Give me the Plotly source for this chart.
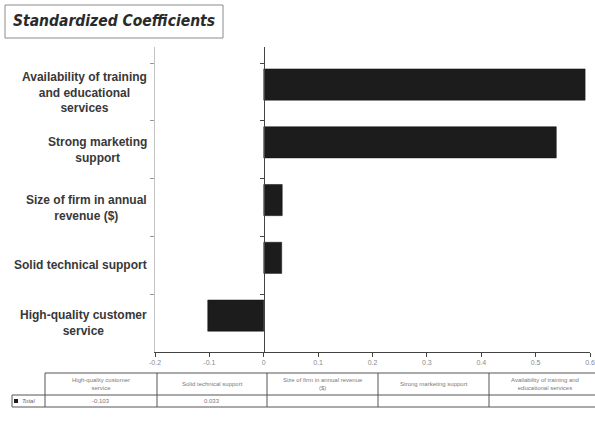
import plotly.graph_objects as go

# Predictors, listed bottom-to-top as drawn on the chart
categories = [
    "High-quality customer<br>service",
    "Solid technical support",
    "Size of firm in annual<br>revenue ($)",
    "Strong marketing<br>support",
    "Availability of training<br>and educational<br>services",
]
table_headers = [
    "High-quality customer<br>service",
    "Solid technical support",
    "Size of firm in annual revenue<br>($)",
    "Strong marketing support",
    "Availability of training and<br>educational services",
]
coefficients = [-0.103, 0.033, 0.034, 0.538, 0.591]
# which values are printed in the data table row
table_shows_value = [True, True, False, False, False]
series_name = "Total"
x_ticks = [-0.2, -0.1, 0, 0.1, 0.2, 0.3, 0.4, 0.5, 0.6]

W, H = 595, 448
L, R, T, B = 155, 5, 47, 96
plot_w = W - L - R
plot_h = H - T - B


def px(p):
    """pixel x -> paper x"""
    return (p - L) / plot_w


def py(p):
    """pixel y -> paper y"""
    return (H - B - p) / plot_h


positions = list(range(len(categories)))
y_range = [-0.5, 4.78]
band_edges = [i + 0.5 for i in positions]

fig = go.Figure()
fig.add_trace(go.Bar(
    x=coefficients,
    y=positions,
    orientation="h",
    width=0.54,
    offset=-0.14,
    marker=dict(color="#1c1c1c", line=dict(color="#111111", width=0.5)),
    name=series_name,
    showlegend=False,
    hoverinfo="x",
))

fig.update_layout(
    width=W, height=H,
    margin=dict(l=L, r=R, t=T, b=B, autoexpand=False),
    paper_bgcolor="white",
    plot_bgcolor="white",
    font=dict(family="Liberation Sans, Arial, sans-serif", color="#333333"),
    xaxis=dict(
        range=[-0.2, 0.6],
        tickvals=x_ticks,
        ticktext=[("%g" % v) for v in x_ticks],
        showgrid=False,
        zeroline=False,
        showline=True,
        linecolor="#444444",
        linewidth=1,
        ticks="outside",
        ticklen=4,
        tickcolor="#444444",
        tickfont=dict(size=7, color="#8a8a8a"),
        automargin=False,
        fixedrange=True,
    ),
    yaxis=dict(
        range=y_range,
        showgrid=False,
        zeroline=False,
        showline=True,
        linecolor="#c4c4c4",
        linewidth=1,
        showticklabels=False,
        ticks="",
        tickvals=positions,
        minor=dict(tickmode="array", tickvals=band_edges, ticks="outside",
                   ticklen=4, tickcolor="#999999"),
        automargin=False,
        fixedrange=True,
    ),
    yaxis2=dict(
        range=y_range,
        overlaying="y",
        anchor="free",
        position=px(264),
        side="left",
        showgrid=False,
        zeroline=False,
        showline=True,
        linecolor="#444444",
        linewidth=1,
        showticklabels=False,
        tickmode="array",
        tickvals=band_edges,
        ticks="outside",
        ticklen=4,
        tickcolor="#444444",
        automargin=False,
        fixedrange=True,
    ),
)

# invisible helper so the zero-line axis is rendered
fig.add_trace(go.Scatter(x=[None], y=[None], yaxis="y2", showlegend=False,
                         hoverinfo="skip"))

shapes = []
annotations = []

# category labels: bold, centred lines, right-aligned block
for pos, label in zip(positions, categories):
    annotations.append(dict(
        x=px(149), xref="paper", y=pos, yref="y",
        text="<b>" + label.replace("<br>", "</b><br><b>") + "</b>",
        showarrow=False, xanchor="right", yanchor="middle",
        align="center",
        font=dict(size=12, color="#383838",
                  family="Liberation Sans, Arial, sans-serif"),
    ))

# title box
shapes.append(dict(type="rect", xref="paper", yref="paper",
                   x0=px(5), x1=px(223), y0=py(5), y1=py(38),
                   line=dict(color="#8c8c8c", width=1), fillcolor="white"))
annotations.append(dict(
    x=px(114), y=py(21.5), xref="paper", yref="paper",
    text="<b><i>Standardized Coefficients</i></b>", showarrow=False,
    xanchor="center", yanchor="middle",
    font=dict(size=15.5, color="#2a2a2a",
              family="Liberation Sans Narrow, Arial Narrow, DejaVu Sans Condensed, sans-serif"),
))

# data table under the axis
col_edges = [45, 157, 267, 378, 489, 600]
row_top, row_mid, row_bot = 373, 395, 407
line_style = dict(color="#555555", width=1)
for yy in (row_top, row_mid, row_bot):
    shapes.append(dict(type="line", xref="paper", yref="paper",
                       x0=px(col_edges[0]), x1=px(col_edges[-1]),
                       y0=py(yy), y1=py(yy), line=line_style))
for xx in col_edges:
    shapes.append(dict(type="line", xref="paper", yref="paper",
                       x0=px(xx), x1=px(xx), y0=py(row_top), y1=py(row_bot),
                       line=line_style))
# legend cell on the data row
legend_left = 12
for yy in (row_mid, row_bot):
    shapes.append(dict(type="line", xref="paper", yref="paper",
                       x0=px(legend_left), x1=px(col_edges[0]),
                       y0=py(yy), y1=py(yy), line=line_style))
shapes.append(dict(type="line", xref="paper", yref="paper",
                   x0=px(legend_left), x1=px(legend_left),
                   y0=py(row_mid), y1=py(row_bot), line=line_style))
shapes.append(dict(type="rect", xref="paper", yref="paper",
                   x0=px(14), x1=px(18), y0=py(399), y1=py(403),
                   line=dict(width=0), fillcolor="#1c1c1c"))
annotations.append(dict(
    x=px(20), y=py(401), xref="paper", yref="paper",
    text="<i>" + series_name + "</i>", showarrow=False,
    xanchor="left", yanchor="middle",
    font=dict(size=6, color="#666666"),
))

for i, (hdr, val, show) in enumerate(zip(table_headers, coefficients, table_shows_value)):
    cx = (col_edges[i] + col_edges[i + 1]) / 2
    annotations.append(dict(
        x=px(cx), y=py((row_top + row_mid) / 2), xref="paper", yref="paper",
        text=hdr, showarrow=False, xanchor="center", yanchor="middle",
        align="center", font=dict(size=6, color="#7a7a7a"),
    ))
    if show:
        annotations.append(dict(
            x=px(cx), y=py((row_mid + row_bot) / 2), xref="paper", yref="paper",
            text=f"{val:.3f}", showarrow=False, xanchor="center",
            yanchor="middle", font=dict(size=6, color="#7a7a7a"),
        ))

fig.update_layout(shapes=shapes, annotations=annotations)

fig.write_html("out.html")
